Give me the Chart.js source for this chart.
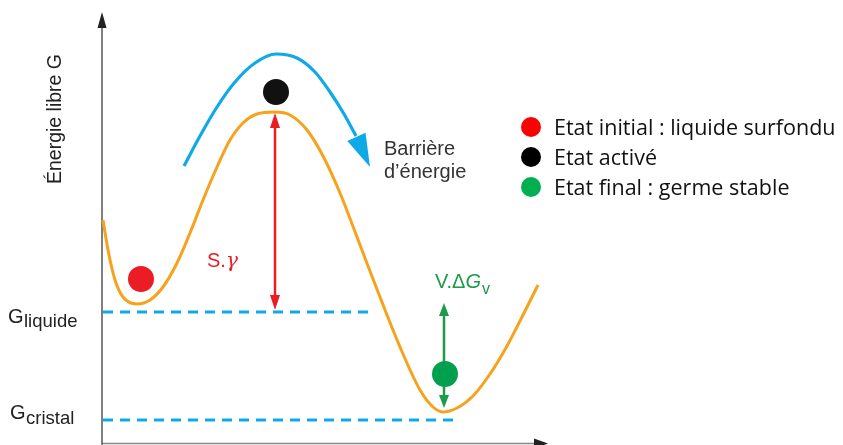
<!DOCTYPE html>
<html>
<head>
<meta charset="utf-8">
<script src="https://cdn.jsdelivr.net/npm/chart.js@4.4.1/dist/chart.umd.min.js"></script>
<style>
  html, body { margin: 0; padding: 0; background: #fff; }
  #wrap { width: 843px; height: 445px; }
</style>
</head>
<body>
<div id="wrap"><canvas id="diag" width="843" height="445"></canvas></div>
<script>
// free energy curve (x = position, g = energie libre)
var curveX = [103, 108, 115, 123, 137, 150, 163, 177, 190, 203, 217, 230, 243, 257, 275, 290, 307, 323, 340, 357, 373, 387, 403, 420, 433, 443, 457, 473, 490, 507, 523, 538];
var curveG = [225, 195, 165, 148, 141, 145, 158, 182, 212, 245, 278, 305, 322, 331, 333, 330, 315, 289, 252, 208, 166, 130, 91, 55, 38, 33, 37, 49, 71, 99, 130, 160];

// barriere arrow (blue)
var arcX = [184, 200, 217, 235, 255, 276, 297, 315, 330, 344, 356];
var arcG = [279, 309, 338, 363, 382, 391, 387, 373, 353, 331, 309];
var arcTip = [370, 278];

// levels
var gLiquide = 133;
var gCristal = 25;
var liquideEnd = 370;
var cristalEnd = 460;

// states : initial, active, final
var stateX = [141, 276, 445];
var stateG = [166, 353, 71];
var stateColors = ['#ec1c24', '#111111', '#00a04f'];

// S.gamma arrow and V.dG arrow
var sgX = 275, sgFrom = 135, sgTo = 332;
var vgX = 444, vgFrom = 37, vgTo = 142;

// axes
var axisX0 = 102, axisTop = 433, axisRight = 548, axisG0 = 1.5;

// legend
var legendLabels = ['Etat initial : liquide surfondu', 'Etat activé', 'Etat final : germe stable'];
var legendColors = ['#ff0000', '#000000', '#00b050'];

var orange = '#f6a21d';
var cyan = '#10a9e8';

function pts(xs, gs) {
    var out = [];
    for (var i = 0; i < xs.length; i++) out.push({x: xs[i], y: gs[i]});
    return out;
}

function head(ctx, x1, y1, x2, y2, len, half, color) {
    var a = Math.atan2(y2 - y1, x2 - x1);
    ctx.save();
    ctx.fillStyle = color;
    ctx.beginPath();
    ctx.moveTo(x2, y2);
    ctx.lineTo(x2 - len * Math.cos(a) + half * Math.sin(a), y2 - len * Math.sin(a) - half * Math.cos(a));
    ctx.lineTo(x2 - len * Math.cos(a) - half * Math.sin(a), y2 - len * Math.sin(a) + half * Math.cos(a));
    ctx.closePath();
    ctx.fill();
    ctx.restore();
}

var decor = {
    id: 'decor',
    afterDatasetsDraw: function(chart) {
        var ctx = chart.ctx;
        var sx = chart.scales.x, sy = chart.scales.y;
        function X(v) { return sx.getPixelForValue(v); }
        function Y(v) { return sy.getPixelForValue(v); }

        // arrow heads
        head(ctx, X(axisX0), Y(axisTop - 20), X(axisX0), Y(axisTop), 16, 4.5, '#222');
        head(ctx, X(axisRight - 20), Y(axisG0), X(axisRight), Y(axisG0), 14, 5, '#222');
        head(ctx, X(arcX[arcX.length - 1]), Y(arcG[arcG.length - 1]), X(arcTip[0]), Y(arcTip[1]), 33, 10, cyan);
        head(ctx, X(sgX), Y(sgFrom + 20), X(sgX), Y(sgFrom), 15, 5, '#ec1c24');
        head(ctx, X(sgX), Y(sgTo - 20), X(sgX), Y(sgTo), 15, 5, '#ec1c24');
        head(ctx, X(vgX), Y(vgFrom + 20), X(vgX), Y(vgFrom), 13, 5, '#1e9a4b');
        head(ctx, X(vgX), Y(vgTo - 20), X(vgX), Y(vgTo), 13, 5, '#1e9a4b');

        ctx.save();
        ctx.textBaseline = 'alphabetic';
        ctx.textAlign = 'left';

        // y axis title
        ctx.save();
        ctx.translate(X(61), Y(326));
        ctx.rotate(-Math.PI / 2);
        ctx.textAlign = 'center';
        ctx.fillStyle = '#222';
        ctx.font = '19.5px "Liberation Sans", Arial, sans-serif';
        ctx.fillText('Énergie libre G', 0, 0);
        ctx.restore();

        // level labels
        ctx.fillStyle = '#222';
        ctx.font = '20px "Liberation Sans", Arial, sans-serif';
        ctx.fillText('G', X(8), Y(122));
        ctx.fillText('G', X(10), Y(26));
        ctx.font = '18.5px "Liberation Sans", Arial, sans-serif';
        ctx.fillText('liquide', X(24), Y(118));
        ctx.fillText('cristal', X(26), Y(21));

        // S.gamma
        ctx.fillStyle = '#ec1c24';
        ctx.font = '20px "Liberation Sans", Arial, sans-serif';
        ctx.fillText('S.', X(207), Y(178));
        var w = ctx.measureText('S.').width;
        ctx.font = 'italic 20px "DejaVu Serif", serif';
        ctx.fillText('γ', X(207) + w, Y(178));

        // V.dG
        ctx.fillStyle = '#1e9a4b';
        ctx.font = '20px "Liberation Sans", Arial, sans-serif';
        var x0 = X(435);
        ctx.fillText('V.Δ', x0, Y(157));
        x0 += ctx.measureText('V.Δ').width;
        ctx.font = 'italic 20px "Liberation Sans", Arial, sans-serif';
        ctx.fillText('G', x0, Y(157));
        x0 += ctx.measureText('G').width + 1;
        ctx.font = '16px "Liberation Sans", Arial, sans-serif';
        ctx.fillText('v', x0, Y(151));

        // barriere
        ctx.fillStyle = '#333';
        ctx.font = '20px "Liberation Sans", Arial, sans-serif';
        ctx.fillText('Barrière', X(384), Y(290));
        ctx.fillText('d’énergie', X(384), Y(267));

        // legend
        ctx.font = '21.5px "Open Sans", sans-serif';
        for (var i = 0; i < legendLabels.length; i++) {
            var ly = 127 + i * 30;
            ctx.fillStyle = legendColors[i];
            ctx.beginPath();
            ctx.arc(531, ly, 10, 0, Math.PI * 2);
            ctx.fill();
            ctx.fillStyle = '#111';
            ctx.fillText(legendLabels[i], 554, ly + 7.5);
        }
        ctx.restore();
    }
};

new Chart(document.getElementById('diag').getContext('2d'), {
    type: 'line',
    data: {
        datasets: [
            {
                type: 'scatter',
                label: 'states',
                data: pts(stateX, stateG),
                pointRadius: 13,
                pointHoverRadius: 13,
                pointBackgroundColor: stateColors,
                pointBorderWidth: 0,
                showLine: false
            },
            {
                label: 'curve',
                data: pts(curveX, curveG),
                borderColor: orange,
                borderWidth: 3,
                pointRadius: 0,
                cubicInterpolationMode: 'monotone'
            },
            {
                label: 'arc',
                data: pts(arcX, arcG),
                borderColor: cyan,
                borderWidth: 3.2,
                pointRadius: 0,
                cubicInterpolationMode: 'monotone'
            },
            {
                label: 'sgamma',
                data: [{x: sgX, y: sgFrom + 6}, {x: sgX, y: sgTo - 6}],
                borderColor: '#ec1c24',
                borderWidth: 2.5,
                pointRadius: 0
            },
            {
                label: 'vdg',
                data: [{x: vgX, y: vgFrom + 6}, {x: vgX, y: vgTo - 6}],
                borderColor: '#1e9a4b',
                borderWidth: 2.5,
                pointRadius: 0
            },
            {
                label: 'liquide',
                data: [{x: axisX0 + 1, y: gLiquide}, {x: liquideEnd, y: gLiquide}],
                borderColor: cyan,
                borderWidth: 3,
                borderDash: [10, 7],
                pointRadius: 0
            },
            {
                label: 'cristal',
                data: [{x: axisX0 + 1, y: gCristal}, {x: cristalEnd, y: gCristal}],
                borderColor: cyan,
                borderWidth: 3,
                borderDash: [10, 7],
                pointRadius: 0
            },
            {
                label: 'yaxis',
                data: [{x: axisX0, y: 0}, {x: axisX0, y: axisTop - 10}],
                borderColor: '#555',
                borderWidth: 1.5,
                pointRadius: 0
            },
            {
                label: 'xaxis',
                data: [{x: axisX0, y: axisG0}, {x: axisRight - 8, y: axisG0}],
                borderColor: '#888',
                borderWidth: 1.5,
                pointRadius: 0
            }
        ]
    },
    options: {
        responsive: false,
        animation: false,
        devicePixelRatio: 1,
        layout: { padding: 0, autoPadding: false },
        plugins: { legend: { display: false }, tooltip: { enabled: false } },
        scales: {
            x: { type: 'linear', min: 0, max: 843, display: false },
            y: { type: 'linear', min: 0, max: 445, display: false }
        }
    },
    plugins: [decor]
});
</script>
</body>
</html>
